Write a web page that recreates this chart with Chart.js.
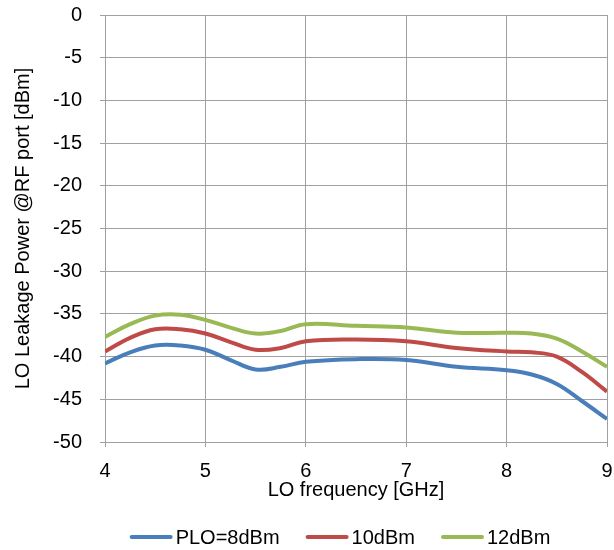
<!DOCTYPE html>
<html>
<head>
<meta charset="utf-8">
<script src="https://cdn.jsdelivr.net/npm/chart.js@4/dist/chart.umd.min.js"></script>
<style>
  html, body { margin: 0; padding: 0; background: #fff; }
  #wrap { width: 614px; height: 550px; }
</style>
</head>
<body>
<div id="wrap"><canvas id="grafico"></canvas></div>
<script>
// frequency points (GHz)
const freq = [4, 4.25, 4.5, 4.75, 5, 5.25, 5.5, 5.75, 6, 6.5, 7, 7.5, 8, 8.25, 8.5, 8.75, 9];
const plo8 = [-40.8, -39.5, -38.7, -38.7, -39.2, -40.4, -41.5, -41.2, -40.6, -40.3, -40.4, -41.2, -41.6, -42.1, -43.2, -45.2, -47.3];
const plo10 = [-39.4, -37.8, -36.8, -36.8, -37.3, -38.3, -39.2, -39.0, -38.2, -38.0, -38.2, -39.0, -39.4, -39.5, -40.0, -41.8, -44.1];
const plo12 = [-37.7, -36.2, -35.2, -35.1, -35.7, -36.6, -37.3, -37.0, -36.2, -36.4, -36.6, -37.2, -37.2, -37.3, -37.9, -39.4, -41.2];
const seriesNames = ['PLO=8dBm', '10dBm', '12dBm'];
const xTicks = [4, 5, 6, 7, 8, 9];
const yTicks = [0, -5, -10, -15, -20, -25, -30, -35, -40, -45, -50];

function pontos(valores) {
    return freq.map((f, i) => ({ x: f, y: valores[i] }));
}

const cores = ['#4a7ebb', '#be4b48', '#98b954'];
const series = [plo8, plo10, plo12];
const fonte = 'Liberation Sans, Arial, sans-serif';

// legenda desenhada a mao (linha curta + texto), centrada sob o grafico
const legendaLinhas = {
    id: 'legendaLinhas',
    afterDraw(chart) {
        const c = chart.ctx;
        const area = chart.chartArea;
        const linha = 43, gap = 3, espaco = 26;
        c.save();
        c.font = '20px ' + fonte;
        const larguras = chart.data.datasets.map(ds => c.measureText(ds.label).width);
        let total = 0;
        larguras.forEach((w, i) => { total += linha + gap + w + (i > 0 ? espaco : 0); });
        let x = (area.left + area.right) / 2 - 16 - total / 2;
        const y = 537;
        c.textBaseline = 'middle';
        c.fillStyle = '#000';
        chart.data.datasets.forEach((ds, i) => {
            c.strokeStyle = ds.borderColor;
            c.lineWidth = 4;
            c.lineCap = 'round';
            c.beginPath();
            c.moveTo(x + 2, y);
            c.lineTo(x + linha - 2, y);
            c.stroke();
            x += linha + gap;
            c.fillText(ds.label, x, y + 1);
            x += larguras[i] + espaco;
        });
        c.restore();
    }
};

const ctx = document.getElementById('grafico');
new Chart(ctx, {
    type: 'line',
    data: {
        datasets: series.map((s, i) => ({
            label: seriesNames[i],
            data: pontos(s),
            borderColor: cores[i],
            backgroundColor: cores[i],
            borderWidth: 4,
            pointRadius: 0,
            tension: 0.4
        }))
    },
    plugins: [legendaLinhas],
    options: {
        responsive: true,
        maintainAspectRatio: false,
        animation: false,
        layout: { padding: { left: 0, right: 0, top: 0, bottom: 48 } },
        plugins: {
            legend: { display: false },
            tooltip: { enabled: false }
        },
        scales: {
            x: {
                type: 'linear',
                min: 4,
                max: 9,
                afterBuildTicks: (s) => { s.ticks = xTicks.map(v => ({ value: v })); },
                afterFit: (s) => { s.paddingRight = 7; s.paddingLeft = 0; },
                ticks: {
                    color: '#000',
                    font: { family: fonte, size: 20 },
                    padding: 12,
                    maxRotation: 0
                },
                grid: { color: '#a0a0a0', lineWidth: 1, tickLength: 5 },
                border: { color: '#a0a0a0' },
                title: {
                    display: true,
                    text: 'LO frequency [GHz]',
                    color: '#000',
                    font: { family: fonte, size: 20 },
                    padding: { top: -17, bottom: 0 }
                }
            },
            y: {
                min: -50,
                max: 0,
                afterBuildTicks: (s) => { s.ticks = yTicks.map(v => ({ value: v })); },
                afterFit: (s) => { s.width = 105; s.paddingTop = 15; s.paddingBottom = 12; },
                ticks: {
                    color: '#000',
                    font: { family: fonte, size: 20 },
                    padding: 18
                },
                grid: { color: '#a0a0a0', lineWidth: 1, tickLength: 5 },
                border: { color: '#a0a0a0' },
                title: {
                    display: true,
                    text: 'LO Leakage Power @RF port [dBm]',
                    color: '#000',
                    font: { family: fonte, size: 20 },
                    padding: { top: 11, bottom: 0 }
                }
            }
        }
    }
});
</script>
</body>
</html>
